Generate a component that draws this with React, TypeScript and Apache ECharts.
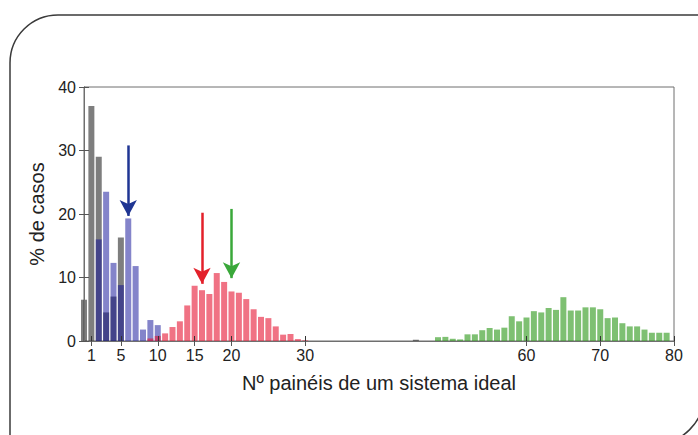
import React, { useEffect, useRef } from "react";
import * as echarts from "echarts";

// Histogram data (x = number of panels, y = % of cases)
const grayX = [0, 1, 2, 3, 4, 5, 45];
const grayY = [6.5, 37, 29, 4.5, 7.0, 16.3, 0.2];

const blueX = [2, 3, 4, 5, 6, 7, 8, 9, 10];
const blueY = [16, 23.5, 12.3, 8.8, 19.3, 11.8, 1.8, 3.3, 2.5];

const redX = [9, 10, 11, 12, 13, 14, 15, 16, 17, 18, 19, 20, 21, 22, 23, 24, 25, 26, 27, 28, 29, 30];
const redY = [0.4, 0.8, 1.2, 2.2, 3.1, 5.6, 8.7, 8.0, 7.4, 10.7, 9.3, 7.8, 7.6, 6.6, 5.0, 3.8, 3.6, 2.3, 1.0, 1.1, 0.3, 0.1];

const greenX = [48, 49, 50, 51, 52, 53, 54, 55, 56, 57, 58, 59, 60, 61, 62, 63, 64, 65, 66, 67, 68, 69, 70, 71, 72, 73, 74, 75, 76, 77, 78, 79];
const greenY = [0.6, 0.65, 0.35, 0.25, 1.05, 1.05, 1.7, 2.05, 1.8, 2.1, 3.9, 3.1, 3.7, 4.7, 4.5, 5.2, 4.9, 6.9, 4.8, 4.8, 5.3, 5.3, 5.0, 3.6, 3.7, 2.8, 2.3, 2.3, 1.8, 1.3, 1.3, 1.3];

// Arrows: [x, yStart, yEnd]
const blueArrow = [6, 30.8, 19.7];
const redArrow = [16, 20.2, 9.0];
const greenArrow = [20, 20.8, 9.9];

const xTicks = [1, 5, 10, 15, 20, 30, 60, 70, 80];

const xName = "Nº painéis de um sistema ideal";
const yName = "% de casos";

const font = "'Liberation Sans', Arial, sans-serif";

function pairs(xs: number[], ys: number[]) {
  return xs.map((x, i) => [x, ys[i]]);
}

function arrow(a: number[], color: string) {
  return {
    silent: true,
    symbol: ["none", "arrow"],
    symbolSize: [13, 16],
    label: { show: false },
    lineStyle: { color, width: 2.5, type: "solid" },
    data: [[{ coord: [a[0], a[1]] }, { coord: [a[0], a[2]] }]],
  };
}

export default function App() {
  const ref = useRef<HTMLDivElement>(null);
  useEffect(() => {
    if (!ref.current) return;
    const chart = echarts.init(ref.current, null, { renderer: "svg" });
    const barBase = {
      type: "bar",
      barWidth: 6,
      barGap: "-100%",
      clip: true,
    };
    const frame = { fill: "none", stroke: "#3a3a3a", lineWidth: 1.5 };
    const axisColor = "#6f6f6f";
    const textColor = "#222";
    chart.setOption({
      animation: false,
      grid: { left: 84, right: 24, top: 87, bottom: 94, show: true, borderColor: axisColor, borderWidth: 1, backgroundColor: "transparent" },
      graphic: [
        { type: "line", shape: { x1: 10, y1: 63, x2: 10, y2: 440 }, style: frame, silent: true },
        { type: "line", shape: { x1: 58, y1: 15, x2: 705, y2: 15 }, style: frame, silent: true },
        { type: "arc", shape: { cx: 58, cy: 63, r: 48, startAngle: Math.PI, endAngle: Math.PI * 1.5, clockwise: true }, style: frame, silent: true },
        { type: "arc", shape: { cx: 655, cy: 395, r: 49, startAngle: 0, endAngle: Math.PI / 2, clockwise: true }, style: frame, silent: true },
      ],
      xAxis: [
        {
          type: "value",
          min: 0,
          max: 80,
          z: 5,
          name: xName,
          nameLocation: "middle",
          nameGap: 32,
          nameTextStyle: { fontFamily: font, fontSize: 20, color: textColor },
          axisLine: { show: true, lineStyle: { color: axisColor, width: 1 } },
          axisTick: { show: true, inside: true, length: 5, customValues: xTicks, lineStyle: { color: "#333" } },
          axisLabel: { customValues: xTicks, fontFamily: font, fontSize: 16, color: textColor, margin: 6 },
          splitLine: { show: false },
        },
        {
          type: "value",
          position: "top",
          min: 0,
          max: 80,
          z: 5,
          axisLine: { show: true, lineStyle: { color: axisColor, width: 1 } },
          axisTick: { show: true, inside: true, length: 5, customValues: xTicks, lineStyle: { color: "#555" } },
          axisLabel: { show: false, customValues: xTicks },
          splitLine: { show: false },
        },
      ],
      yAxis: [
        {
          type: "value",
          min: 0,
          max: 40,
          interval: 10,
          z: 5,
          name: yName,
          nameLocation: "middle",
          nameGap: 36,
          nameTextStyle: { fontFamily: font, fontSize: 20, color: textColor },
          axisLine: { show: true, lineStyle: { color: axisColor, width: 1 } },
          axisTick: { show: true, inside: true, length: 5, lineStyle: { color: "#555" } },
          axisLabel: { fontFamily: font, fontSize: 16, color: textColor, margin: 8 },
          splitLine: { show: false },
        },
        {
          type: "value",
          position: "right",
          min: 0,
          max: 40,
          interval: 10,
          z: 5,
          axisLine: { show: true, lineStyle: { color: axisColor, width: 1 } },
          axisTick: { show: true, inside: true, length: 5, lineStyle: { color: "#555" } },
          axisLabel: { show: false },
          splitLine: { show: false },
        },
      ],
      series: [
        {
          ...barBase,
          name: "gray",
          data: pairs(grayX, grayY),
          itemStyle: { color: "rgba(40,40,40,0.6)" },
        },
        {
          ...barBase,
          name: "blue",
          data: pairs(blueX, blueY),
          itemStyle: { color: "rgba(10,10,150,0.5)" },
          markLine: arrow(blueArrow, "#1f3593"),
        },
        {
          ...barBase,
          name: "red",
          data: pairs(redX, redY),
          itemStyle: { color: "rgba(230,20,50,0.6)" },
          markLine: arrow(redArrow, "#e3202a"),
        },
        {
          ...barBase,
          name: "green",
          data: pairs(greenX, greenY),
          itemStyle: { color: "rgba(40,150,20,0.6)" },
          markLine: arrow(greenArrow, "#3aa83a"),
        },
        {
          type: "scatter",
          name: "frame",
          xAxisIndex: 1,
          yAxisIndex: 1,
          data: [],
          silent: true,
        },
      ],
    });
    return () => chart.dispose();
  }, []);
  return (
    <div
      ref={ref}
      style={{ position: "fixed", left: 0, top: 0, width: 698, height: 435, background: "#fff" }}
    />
  );
}
